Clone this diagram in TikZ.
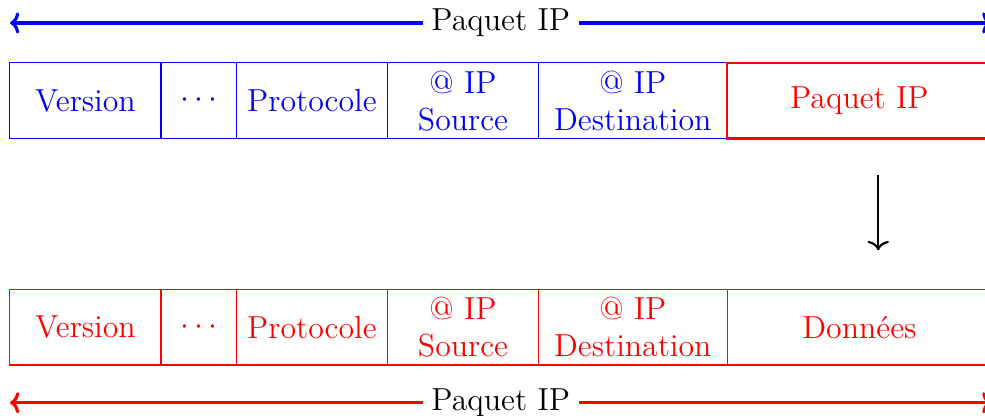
\documentclass[tikz,border=0pt]{standalone}
\usepackage{tikz}
\usetikzlibrary{arrows.meta,positioning}
\tikzset{%
	champ/.style     = {draw, rectangle, outer sep=0pt, inner sep=2pt, minimum height=1cm, text centered, align=center, font=\large},
	encap/.style     = {champ, thick}, % champ encapsule
	etiquette/.style = {fill=white, text=black, font=\large},
	fleche/.style    = {very thick, <->},
}

\begin{document}
\begin{tikzpicture}[node distance=0cm,>={To[width=8pt,length=3.5pt]}]
	\useasboundingbox (-0.132,0.834) rectangle (12.914,-4.675);
	% paquet du dessus
	\node [champ,blue,minimum width=2cm,anchor=north west] (v1) at (0,0) {Version};
	\node [champ,blue,minimum width=1cm] (p1) [right=of v1] {$\cdots$};
	\node [champ,blue,minimum width=2cm] (pr1) [right=of p1] {Protocole};
	\node [champ,blue,minimum width=2cm] (s1) [right=of pr1] {@ IP\\Source};
	\node [champ,blue,minimum width=2.5cm] (d1) [right=of s1] {@ IP\\Destination};
	\node [encap,red,minimum width=3.5cm] (ip1) [right=of d1] {Paquet IP};
	% paquet du dessous
	\node [champ,red,minimum width=2cm,anchor=north west] (v2) at (0,-3) {Version};
	\node [champ,red,minimum width=1cm] (p2) [right=of v2] {$\cdots$};
	\node [champ,red,minimum width=2cm] (pr2) [right=of p2] {Protocole};
	\node [champ,red,minimum width=2cm] (s2) [right=of pr2] {@ IP\\Source};
	\node [champ,red,minimum width=2.5cm] (d2) [right=of s2] {@ IP\\Destination};
	\node [champ,red,minimum width=3.5cm] (don2) [right=of d2] {Donn\'ees};
	
	\coordinate (hg) at ([yshift=0.53cm]v1.north west);
	\coordinate (hd) at ([yshift=0.53cm]ip1.north east);
	\coordinate (bg) at ([yshift=-0.5cm]v2.south west);
	\coordinate (bd) at ([yshift=-0.5cm]don2.south east);
	
	\draw[fleche,blue] (hg) -- node[etiquette] {Paquet IP} (hd);
	\draw[fleche,red] (bg) -- node[etiquette] {Paquet IP} (bd);
	\draw[->,thick,shorten <=0.48cm,shorten >=0.52cm] ([xshift=0.25cm]ip1.south) -- ([xshift=0.25cm]don2.north);
\end{tikzpicture}
\end{document}
